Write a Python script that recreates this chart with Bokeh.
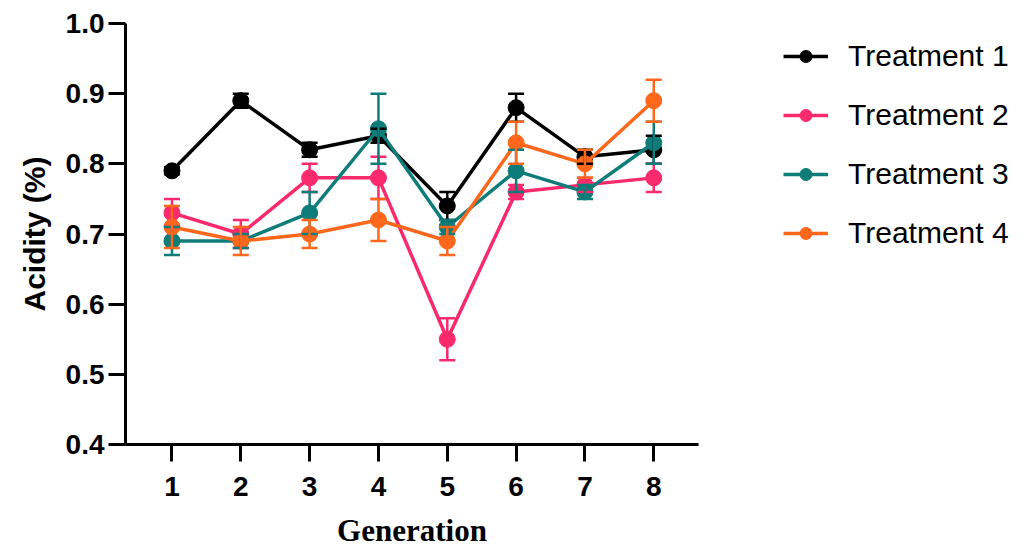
from bokeh.plotting import figure
from bokeh.layouts import row
from bokeh.models import (ColumnDataSource, Whisker, TeeHead, Legend, LegendItem,
                          FixedTicker, PrintfTickFormatter, Range1d)
from bokeh.embed import file_html
from bokeh.resources import INLINE

generations = [1, 2, 3, 4, 5, 6, 7, 8]
series_names = ["Treatment 1", "Treatment 2", "Treatment 3", "Treatment 4"]
t1 = [0.79, 0.89, 0.82, 0.84, 0.74, 0.88, 0.81, 0.82]
t1_err = [0.005, 0.01, 0.01, 0.01, 0.02, 0.02, 0.01, 0.02]
t2 = [0.73, 0.70, 0.78, 0.78, 0.55, 0.76, 0.77, 0.78]
t2_err = [0.02, 0.02, 0.02, 0.03, 0.03, 0.01, 0.01, 0.02]
t3 = [0.69, 0.69, 0.73, 0.85, 0.71, 0.79, 0.76, 0.83]
t3_err = [0.02, 0.01, 0.03, 0.05, 0.01, 0.03, 0.01, 0.03]
t4 = [0.71, 0.69, 0.70, 0.72, 0.69, 0.83, 0.80, 0.89]
t4_err = [0.03, 0.02, 0.02, 0.03, 0.02, 0.03, 0.02, 0.03]
y_ticks = [0.4, 0.5, 0.6, 0.7, 0.8, 0.9, 1.0]

colors = ["#000000", "#FA2A6C", "#0E7C78", "#FF681C"]
values = [t1, t2, t3, t4]
errors = [t1_err, t2_err, t3_err, t4_err]

p = figure(width=700, height=550, output_backend="svg", toolbar_location=None,
           x_range=Range1d(0.325, 8.65), y_range=Range1d(0.4, 1.0),
           min_border_left=125, min_border_right=2, min_border_top=23,
           min_border_bottom=105)
p.outline_line_color = None
p.grid.visible = False
p.background_fill_color = "white"
p.border_fill_color = "white"

# separate panel holding the legend (its glyph proxies lie outside its ranges)
lg = figure(width=327, height=550, output_backend="svg", toolbar_location=None,
            x_axis_type=None, y_axis_type=None, min_border=0,
            x_range=Range1d(100, 101), y_range=Range1d(100, 101))
lg.outline_line_color = None
lg.grid.visible = False

items = []
for name, vals, errs, col in zip(series_names, values, errors, colors):
    src = ColumnDataSource(dict(
        x=generations, y=vals,
        upper=[v + e for v, e in zip(vals, errs)],
        lower=[v - e for v, e in zip(vals, errs)]))
    w = Whisker(base="x", upper="upper", lower="lower", source=src,
                line_color=col, line_width=2.5, level="glyph",
                upper_head=TeeHead(size=16, line_color=col, line_width=2.5),
                lower_head=TeeHead(size=16, line_color=col, line_width=2.5))
    p.add_layout(w)
    p.line("x", "y", source=src, line_color=col, line_width=3.5)
    p.scatter("x", "y", source=src, size=16, fill_color=col, line_color=col)
    lr = lg.line("x", "y", source=src, line_color=col, line_width=3.5)
    sr = lg.scatter("x", "y", source=src, size=16, fill_color=col, line_color=col)
    items.append(LegendItem(label=name, renderers=[lr, sr]))

legend = Legend(items=items, location=(83, 194), background_fill_alpha=0,
                border_line_color=None, label_text_font="Liberation Sans",
                label_text_font_size="30px", label_text_color="black",
                label_height=30, glyph_height=30,
                glyph_width=45, label_standoff=20, spacing=25, padding=0, margin=0)
lg.add_layout(legend, "center")

for ax in (p.xaxis[0], p.yaxis[0]):
    ax.axis_line_width = 3
    ax.major_tick_line_width = 3
    ax.major_tick_in = 0
    ax.major_tick_out = 17
    ax.minor_tick_line_color = None
    ax.major_label_text_font = "Liberation Sans"
    ax.major_label_text_font_style = "bold"
    ax.major_label_text_font_size = "28px"
    ax.major_label_text_color = "black"
    ax.axis_line_color = "black"
    ax.major_tick_line_color = "black"

p.xaxis.ticker = FixedTicker(ticks=generations)
p.xaxis.major_label_standoff = 15
p.xaxis.axis_label = "Generation"
p.xaxis.axis_label_text_font = "Liberation Serif"
p.xaxis.axis_label_text_font_style = "bold"
p.xaxis.axis_label_text_font_size = "31px"
p.xaxis.axis_label_standoff = 14
p.xaxis.axis_label_text_color = "black"

p.yaxis.ticker = FixedTicker(ticks=y_ticks)
p.yaxis.formatter = PrintfTickFormatter(format="%.1f")
p.yaxis.major_label_standoff = 4
p.yaxis.axis_label = "Acidity (%)"
p.yaxis.axis_label_text_font = "Liberation Sans"
p.yaxis.axis_label_text_font_style = "bold"
p.yaxis.axis_label_text_font_size = "30px"
p.yaxis.axis_label_standoff = 12
p.yaxis.axis_label_text_color = "black"

layout = row(p, lg, spacing=0)
open("out.html", "w").write(file_html(layout, INLINE))
